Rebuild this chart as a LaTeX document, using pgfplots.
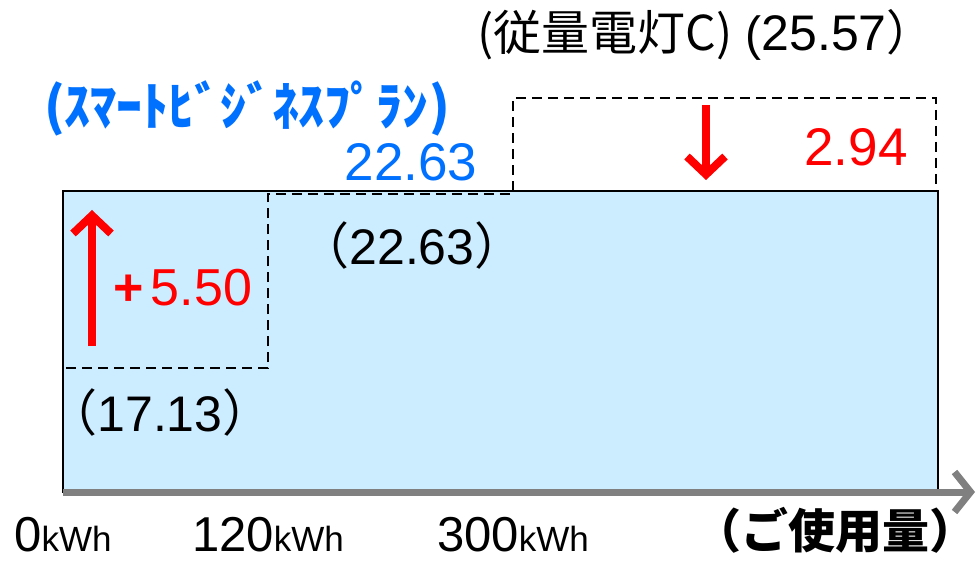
\documentclass[border=0pt]{standalone}
\usepackage{pgfplots}
\pgfplotsset{compat=1.18}
\usepackage{fontspec}
\setmainfont{Liberation Sans}
\newfontfamily\jp{Noto Sans CJK JP}
\usetikzlibrary{arrows.meta}
\definecolor{fillblue}{RGB}{204,236,255}
\definecolor{planblue}{RGB}{0,112,255}
\definecolor{axisgray}{RGB}{128,128,128}
\newcommand{\fs}[1]{\fontsize{#1}{#1}\selectfont}
\begin{document}
\begin{tikzpicture}
\useasboundingbox (-63pt,-73pt) rectangle (916pt,492pt);
\begin{axis}[
    at={(0,0)}, anchor=south west,
    scale only axis, width=912pt, height=400pt,
    xmin=0, xmax=912, ymin=13.125, ymax=25.756,
    clip=false, axis on top,
    axis x line=bottom, axis y line=none,
    x axis line style={axisgray, line width=7pt, -{Straight Barb[length=16pt,width=40pt]}},
    xtick={0,205,450}, ytick=\empty,
    major tick length=0pt,
    xticklabels={{\fs{49}0\fs{35}kWh},{\fs{49}120\fs{35}kWh},{\fs{49}300\fs{35}kWh}},
    xticklabel style={anchor=north, inner sep=0pt, yshift=-25pt},
]
    % スマートビジネスプラン（一律）
    \addplot[fill=fillblue, draw=black, line width=2pt] coordinates {(0,13.125) (0,22.63) (875,22.63) (875,13.125)} -- cycle;

    % 従量電灯C（段階料金）
    \addplot[black, line width=2.5pt, dash pattern=on 10pt off 6pt, yshift=-3pt] coordinates {(3,17.13) (205,17.13) (205,22.63) (450,22.63)};
    \addplot[black, line width=2.5pt, dash pattern=on 10pt off 6pt] coordinates {(450,22.63) (450,25.57) (873,25.57) (873,22.63)};

    % 差額の矢印
    \draw[red, line width=8pt, -{Straight Barb[length=18pt,width=38pt]}] (axis cs:29,17.735) -- (axis cs:29,22.03);
    \draw[red, line width=8pt, -{Straight Barb[length=18pt,width=38pt]}] (axis cs:643,25.345) -- (axis cs:643,22.977);

    % ラベル
    \node[planblue, font={\jp\bfseries\fs{52}}] at (axis cs:184,25.25) {(ｽﾏｰﾄﾋﾞｼﾞﾈｽﾌﾟﾗﾝ)};
    \node[planblue, font=\fs{53}] at (axis cs:348,23.545) {22.63};
    \node[font=\fs{48}] at (axis cs:643,27.555) {{\jp (従量電灯C)} ({\fs{50}25.57}{\jp ）}};
    \node[font=\fs{50}] at (axis cs:349,20.924) {{\jp （}22.63{\jp ）}};
    \node[font=\fs{50}] at (axis cs:97,15.62) {{\jp （}17.13{\jp ）}};
    \node[red, font=\fs{52}] at (axis cs:120,19.567) {\textbf{+}\kern-2pt\,5.50};
    \node[red, font=\fs{53}] at (axis cs:793,24.02) {2.94};
    \node[font={\jp\bfseries\fs{47}}] at (axis cs:772,11.93) {（ご使用量）};
\end{axis}
\end{tikzpicture}
\end{document}
